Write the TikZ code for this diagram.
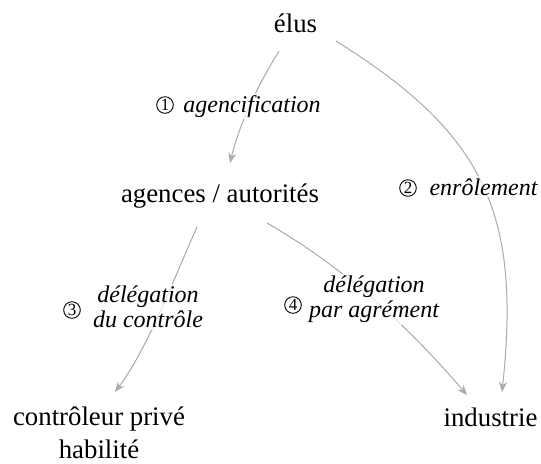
\documentclass[tikz,border=0pt]{standalone}
\usepackage{fontspec}
\setmainfont{Liberation Serif}
\usetikzlibrary{arrows.meta}
\definecolor{edgegray}{RGB}{170,170,170}
\begin{document}
\begin{tikzpicture}[x=0.5pt,y=-0.5pt,
  actor/.style={font=\fontsize{13.4}{16.5}\selectfont, inner sep=0pt, align=center},
  lbl/.style={font=\fontsize{12}{12.5}\selectfont\itshape, inner sep=1pt, align=center,
    fill=white, fill opacity=0.7, text opacity=1},
  num/.style={circle, draw, line width=0.45pt, minimum size=8.3pt, inner sep=0pt,
    font=\fontsize{8.5}{9}\selectfont},
  flow/.style={draw=edgegray, line width=0.5pt,
    -{Stealth[length=5pt,width=4pt,inset=1.5pt]}}
]
\useasboundingbox (0,0) rectangle (541,463);

% actors
\node[actor, anchor=base] (elus) at (295.5,32) {élus};
\node[actor, anchor=base] (agences) at (220,202) {agences / autorités};
\node[actor, anchor=north] (controleur) at (99,406) {contrôleur privé\\habilité};
\node[actor, anchor=base] (industrie) at (490.5,426.5) {industrie};

% flows
\draw[flow] ([shift={(-16.5,19)}]elus.base)
  .. controls (256,88) and (239,126) .. ([shift={(10,-39)}]agences.base);
\draw[flow] ([shift={(40.5,9)}]elus.base)
  .. controls (485,134) and (521,213) .. ([shift={(11.5,-34.5)}]industrie.base);
\draw[flow] ([shift={(-23,25)}]agences.base)
  .. controls (174.5,277) and (148,348) .. ([shift={(16,-14)}]controleur.north);
\draw[flow] ([shift={(47,21)}]agences.base)
  .. controls (345,268) and (408.5,326.6) .. ([shift={(-23.5,-31.5)}]industrie.base);

% flow labels
\node[num] (n1) at (165,105) {1};
\node[lbl, anchor=base] (t1) at (252,112) {agencification};
\node[num] (n2) at (408,188) {2};
\node[lbl, anchor=base] (t2) at (483.5,195) {enrôlement};
\node[num] (n3) at (72,310) {3};
\node[lbl] (t3) at (148,307) {délégation\\du contrôle};
\node[num] (n4) at (293,305) {4};
\node[lbl] (t4) at (374,299.5) {délégation\\par agrément};
\end{tikzpicture}
\end{document}
